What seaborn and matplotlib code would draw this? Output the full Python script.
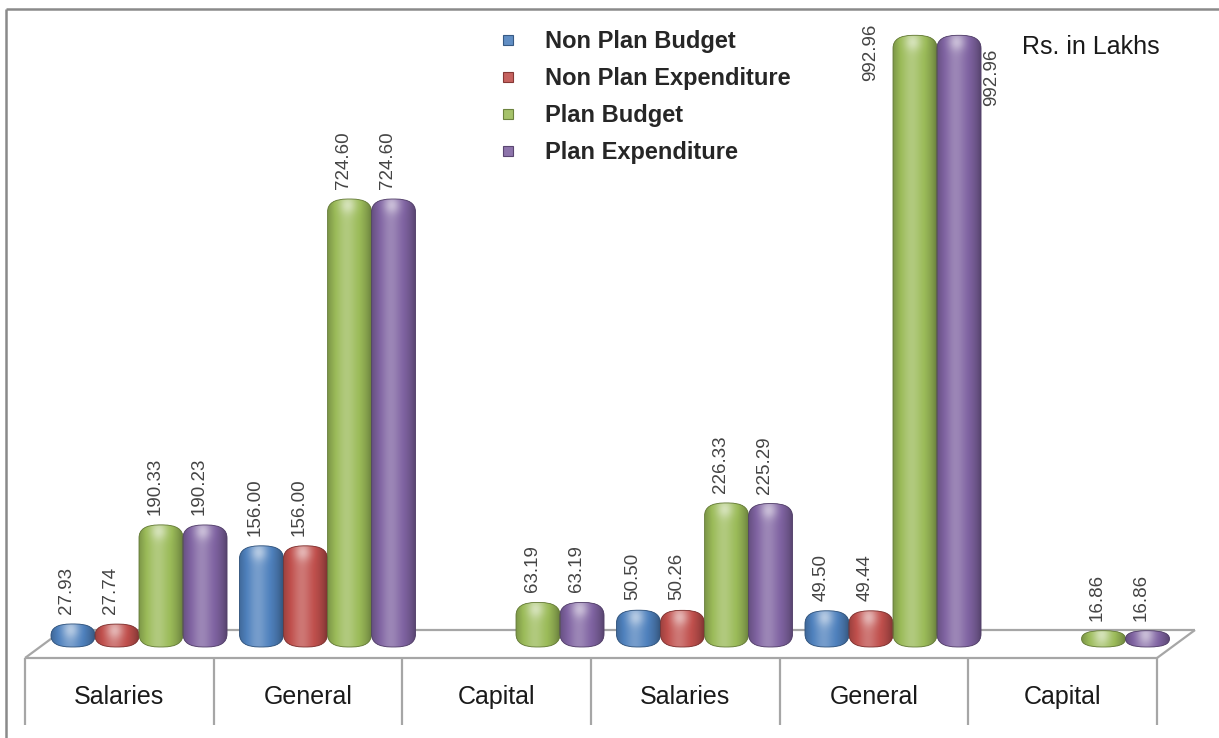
import numpy as np
import pandas as pd
import matplotlib
matplotlib.use("Agg")
import matplotlib.pyplot as plt
from matplotlib.patches import FancyBboxPatch
from matplotlib.lines import Line2D
import seaborn as sns

# ---- data (Rs. in Lakhs) ----
groups = ["Salaries", "General", "Capital", "Salaries", "General", "Capital"]
series = ["Non Plan Budget", "Non Plan Expenditure", "Plan Budget", "Plan Expenditure"]
non_plan_budget = [27.93, 156.00, np.nan, 50.50, 49.50, np.nan]
non_plan_expenditure = [27.74, 156.00, np.nan, 50.26, 49.44, np.nan]
plan_budget = [190.33, 724.60, 63.19, 226.33, 992.96, 16.86]
plan_expenditure = [190.23, 724.60, 63.19, 225.29, 992.96, 16.86]
colors = ["#4f81bd", "#c0504d", "#9bbb59", "#8064a2"]
unit_note = "Rs. in Lakhs"

slots = [f"{g} {i // 3 + 1}" for i, g in enumerate(groups)]
values = [non_plan_budget, non_plan_expenditure, plan_budget, plan_expenditure]
df = pd.DataFrame(
    [(slot, name, vals[i]) for name, vals in zip(series, values)
     for i, slot in enumerate(slots)],
    columns=["slot", "series", "value"],
)

# ---- layout in pixels ----
W, H = 1219, 738
X0_PX, STEP_PX = 139.0, 188.5     # centre of first bar group, group pitch
BASE_PX, SCALE = 641.0, 0.61      # baseline row, pixels per lakh
DROP_PX = 6.0                     # rounded foot below the baseline


def px2x(p):
    return (p - X0_PX) / STEP_PX


def py2y(p):
    return (BASE_PX - p) / SCALE


sns.set_style("white")
plt.rcParams["font.family"] = ["Liberation Sans", "DejaVu Sans"]

fig = plt.figure(figsize=(W / 100, H / 100), dpi=100)
ax = fig.add_axes([0, 0, 1, 1])

sns.barplot(data=df, x="slot", y="value", hue="series", order=slots,
            hue_order=series, palette=colors, width=0.934, errorbar=None,
            saturation=1, legend=False, ax=ax)

xlim = (px2x(0), px2x(W))
ylim = (py2y(H), py2y(0))


def mix(c, f):
    c = np.asarray(matplotlib.colors.to_rgb(c))
    return c + f * (1 - c) if f > 0 else c * (1 + f)


def shading(color, w_px, h_px, ry_px):
    nx = max(int(round(w_px)), 2)
    ny = max(int(round(h_px)), 2)
    t = (np.arange(nx) + 0.5) / nx
    r = np.arange(ny) + 0.5
    T, R = np.meshgrid(t, r)
    s = 0.22 * np.exp(-((T - 0.42) / 0.2) ** 2) - 0.38 * (np.abs(T - 0.45) / 0.55) ** 3
    spot_r = min(ry_px * 0.55, ny * 0.4)
    s += 0.35 * np.exp(-(((T - 0.45) * w_px) ** 2 + (R - spot_r) ** 2) / (2 * 6.0 ** 2))
    s = np.clip(s, -0.5, 0.7)
    base = np.asarray(matplotlib.colors.to_rgb(color))
    img = np.where(s[..., None] > 0,
                   base + s[..., None] * (1 - base),
                   base * (1 + s[..., None]))
    return np.clip(img, 0, 1)


# ---- floor and category table ----
line_kw = dict(color="#a6a6a6", lw=1.6, solid_capstyle="butt", zorder=1)
fl, fr, front_y = 25.0, 1157.0, 658.0
dx3, dy3 = 38.0, 28.0
ax.plot([px2x(fl + dx3), px2x(fr + dx3)], [py2y(front_y - dy3)] * 2, **line_kw)
ax.plot([px2x(fl), px2x(fl + dx3)], [py2y(front_y), py2y(front_y - dy3)], **line_kw)
ax.plot([px2x(fr), px2x(fr + dx3)], [py2y(front_y), py2y(front_y - dy3)], **line_kw)
ax.plot([px2x(fl), px2x(fr)], [py2y(front_y)] * 2, **line_kw)
cell = (fr - fl) / len(groups)
for k in range(len(groups) + 1):
    xx = px2x(fl + k * cell)
    ax.plot([xx, xx], [py2y(front_y), py2y(725)], **line_kw)
for k, g in enumerate(groups):
    ax.text(px2x(fl + (k + 0.5) * cell), py2y(697), g, ha="center", va="center",
            fontsize=18, color="#1a1a1a")

# ---- rounded, shaded bars ----
label_kw = dict(rotation=90, fontsize=13.5, color="#444444")
for si, (cont, color) in enumerate(zip(ax.containers, colors)):
    for bar in cont:
        h = bar.get_height()
        bar.set_visible(False)
        if not np.isfinite(h) or h <= 0:
            continue
        x0, w = bar.get_x(), bar.get_width()
        w_px = w * STEP_PX
        yb = -DROP_PX / SCALE
        h_px = h * SCALE + DROP_PX
        rx_px = min(20.0, w_px / 2)
        ry_px = min(13.0, h_px / 2)
        rounding = rx_px / STEP_PX
        aspect = (ry_px / SCALE) / rounding
        style = f"round,pad=0,rounding_size={rounding}"
        body = FancyBboxPatch((x0, yb), w, h - yb, boxstyle=style,
                              mutation_aspect=aspect, facecolor=color,
                              edgecolor="none", zorder=3)
        ax.add_patch(body)
        im = ax.imshow(shading(color, w_px, h_px, ry_px),
                       extent=[x0, x0 + w, yb, h], origin="upper",
                       aspect="auto", interpolation="bilinear", zorder=3.1)
        im.set_clip_path(body)
        ax.add_patch(FancyBboxPatch((x0, yb), w, h - yb, boxstyle=style,
                                    mutation_aspect=aspect, facecolor="none",
                                    edgecolor=mix(color, -0.35), lw=0.6,
                                    zorder=3.2))

        # value label
        top_px = BASE_PX - h * SCALE
        left_px = X0_PX + x0 * STEP_PX
        txt = f"{h:.2f}"
        if top_px - 10 - 62 > 12:
            ax.text(px2x(left_px + w_px / 2 - 6), py2y(top_px - 10), txt,
                    ha="center", va="bottom", **label_kw)
        elif si % 2 == 0:
            ax.text(px2x(left_px - 22), py2y(top_px - 12), txt,
                    ha="center", va="top", **label_kw)
        else:
            ax.text(px2x(left_px + w_px + 11), py2y(top_px + 13), txt,
                    ha="center", va="top", **label_kw)

# ---- legend ----
handles = [Line2D([], [], marker="s", ls="none", markersize=6.5,
                  markerfacecolor=mix(c, 0.1), markeredgecolor=mix(c, -0.3),
                  markeredgewidth=0.8) for c in colors]
ax.legend(handles, series, loc="upper left",
          bbox_to_anchor=(496 / W, 1 - 30 / H), bbox_transform=fig.transFigure,
          frameon=False, prop={"weight": "bold", "size": 17},
          labelspacing=0.6, handletextpad=1.08, handlelength=1.0,
          borderpad=0, borderaxespad=0)

ax.text(px2x(1022), py2y(47), unit_note, ha="left", va="center",
        fontsize=18, color="#1a1a1a")

# ---- outer frame (top and left edges) ----
frame_kw = dict(color="#8a8a8a", lw=1.8, solid_capstyle="butt", zorder=0.5)
ax.plot([px2x(6), px2x(W)], [py2y(9)] * 2, **frame_kw)
ax.plot([px2x(6)] * 2, [py2y(9), py2y(H)], **frame_kw)

ax.set_xlim(*xlim)
ax.set_ylim(*ylim)
ax.axis("off")

fig.savefig("out.png", dpi=100)
